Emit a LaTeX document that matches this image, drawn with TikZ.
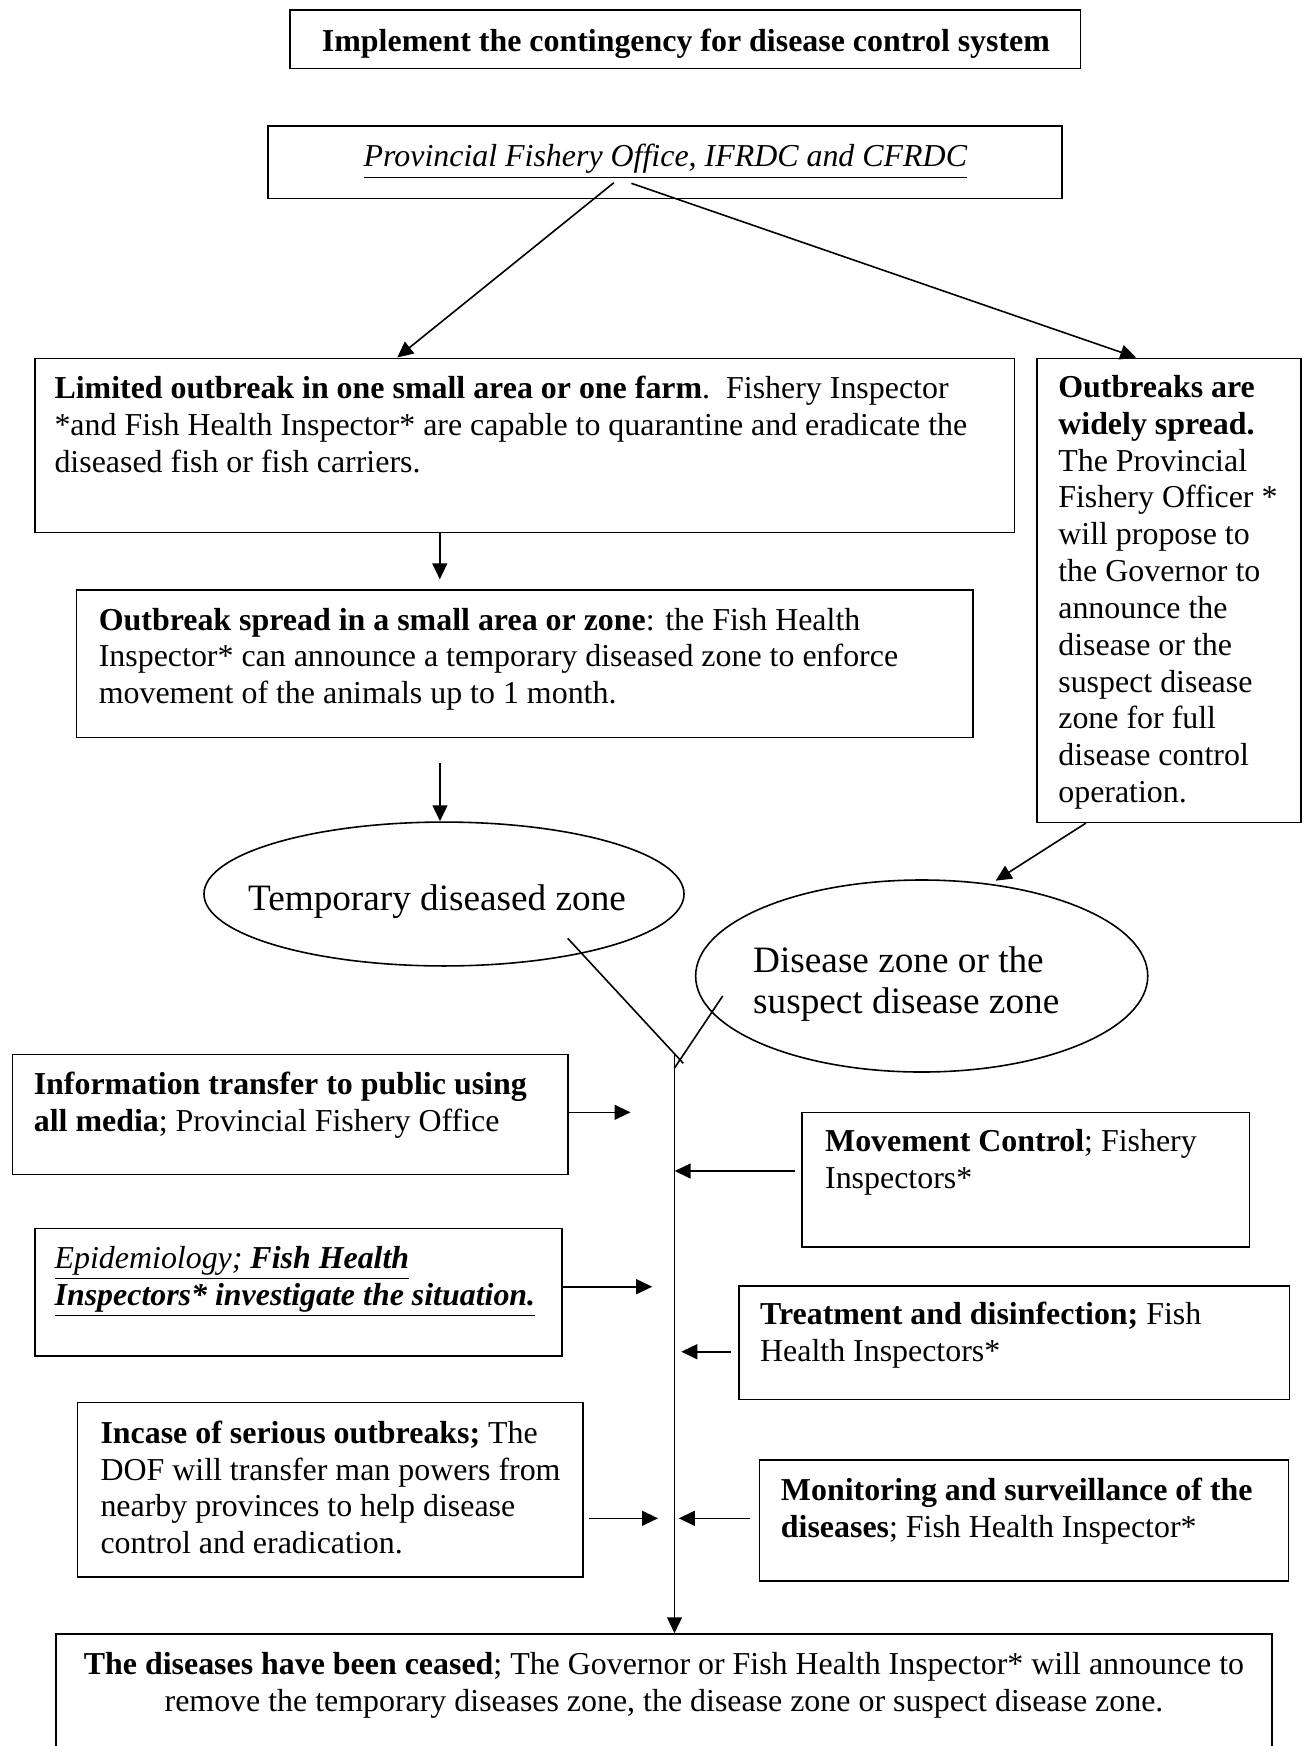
\documentclass[tikz,border=0pt]{standalone}
\usepackage{fontspec}
\setmainfont{Liberation Serif}
\usetikzlibrary{arrows.meta,fit,shapes.geometric,calc}

\begin{document}
\begin{tikzpicture}[x=0.376pt,y=0.376pt]
        \tikzstyle{every node}+=[inner sep=0pt]
        \tikzstyle{box}=[draw=black, line width=0.6pt, rectangle]
        \tikzstyle{zone}=[draw=black, line width=0.6pt, ellipse]
        \tikzstyle{txt}=[align=left, font=\fontsize{12}{13.85}\selectfont]
        \tikzstyle{bigtxt}=[align=left, font=\fontsize{14}{15.6}\selectfont]
        \tikzstyle{arr}=[line width=0.6pt, -{Triangle[length=6pt,width=5.6pt]}]
        \tikzstyle{link}=[line width=0.6pt]
        \useasboundingbox (0,0) rectangle (1306,-1746);
        % boxes and zones
        \node [box, fit={(289.9,-10) (1080.3,-68.3)}] (top) {};
        \node [box, fit={(268.2,-126) (1062,-198.3)}] (prov) {};
        \node [box, fit={(35,-358.3) (1014.5,-532.3)}] (lim) {};
        \node [box, fit={(1037,-358.3) (1301,-822.3)}] (wide) {};
        \node [box, fit={(76.6,-590) (972.8,-737.3)}] (spread) {};
        \node [zone, minimum width=180.5pt, minimum height=54.1pt] (tdz) at (444,-894) {};
        \node [zone, minimum width=170pt, minimum height=72.2pt] (dz) at (921.7,-976) {};
        \node [box, fit={(12.5,-1054.3) (568,-1174.3)}] (info) {};
        \node [box, fit={(802,-1112.3) (1249.4,-1246.7)}] (move) {};
        \node [box, fit={(35,-1228.3) (562.2,-1355.7)}] (epi) {};
        \node [box, fit={(738.8,-1286) (1289.3,-1399.3)}] (treat) {};
        \node [box, fit={(77.5,-1402.3) (583,-1576.7)}] (incase) {};
        \node [box, fit={(759.6,-1460) (1288.5,-1580.7)}] (monit) {};
        \node [box, fit={(55.8,-1634) (1271.9,-1770)}] (ceased) {};
        % texts (base = last line)
        \node [txt, anchor=base] (toptxt) at (686,-51.7) {\textbf{Implement the contingency for disease control system}};
        \node [txt, anchor=base] (provtxt) at (665.5,-166.7) {\underline{\textit{Provincial Fishery Office, IFRDC and CFRDC}}};
        \node [txt, anchor=base west] (limtxt) at (54,-472) {\textbf{Limited outbreak in one small area or one farm}.\ \ Fishery Inspector\\
                *and Fish Health Inspector* are capable to quarantine and eradicate the\\
                diseased fish or fish carriers.};
        \node [txt, anchor=base west] (spreadtxt) at (98.3,-703.7) {\textbf{Outbreak spread in a small area or zone}: the Fish Health\\
                Inspector* can announce a temporary diseased zone to enforce\\
                movement of the animals up to 1 month.};
        \node [txt, anchor=base west] (widetxt) at (1057.8,-802.5) {\textbf{Outbreaks are}\\ \textbf{widely spread.}\\ The Provincial\\
                Fishery Officer *\\ will propose to\\ the Governor to\\ announce the\\ disease or the\\
                suspect disease\\ zone for full\\ disease control\\ operation.};
        \node [bigtxt, anchor=base] (tdztxt) at (437,-910) {Temporary diseased zone};
        \node [bigtxt, anchor=base west] (dztxt) at (752.7,-1013.5) {Disease zone or the\\ suspect disease zone};
        \node [txt, anchor=base west] (infotxt) at (33.3,-1131.8) {\textbf{Information transfer to public using}\\
                \textbf{all media}; Provincial Fishery Office};
        \node [txt, anchor=base west] (movetxt) at (824.6,-1188.5) {\textbf{Movement Control}; Fishery\\ Inspectors*};
        \node [txt, anchor=base west] (epitxt) at (54.1,-1305.1) {\underline{\textit{Epidemiology;} \textbf{\textit{Fish Health}}}\\
                \underline{\textbf{\textit{Inspectors* investigate the situation.}}}};
        \node [txt, anchor=base west] (treattxt) at (759.6,-1361.8) {\textbf{Treatment and disinfection;} Fish\\ Health Inspectors*};
        \node [txt, anchor=base west] (incasetxt) at (100,-1553.8) {\textbf{Incase of serious outbreaks;} The\\
                DOF will transfer man powers from\\ nearby provinces to help disease\\ control and eradication.};
        \node [txt, anchor=base west] (monittxt) at (780.4,-1537.5) {\textbf{Monitoring and surveillance of the}\\
                \textbf{diseases}; Fish Health Inspector*};
        \node [txt, align=center, anchor=base] (ceasedtxt) at (664,-1711.8) {\textbf{The diseases have been ceased}; The Governor or Fish Health Inspector* will announce to\\
                remove the temporary diseases zone, the disease zone or suspect disease zone.};
        % free ends
        \coordinate (pa) at (613.9,-182.7);
        \coordinate (pb) at (631.4,-183.3);
        \coordinate (c1) at (439.8,-579.3);
        \coordinate (c2) at (440,-763.3);
        \coordinate (c3) at (995.7,-880.7);
        \coordinate (t1) at (567.7,-938.3);
        \coordinate (t2) at (683.3,-1063.3);
        \coordinate (d1) at (722.7,-996);
        \coordinate (d2) at (674.3,-1068.3);
        \coordinate (sp) at (674.5,-1053.3);
        \coordinate (h1) at (630.5,-1112.3);
        \coordinate (h2a) at (795.4,-1171);
        \coordinate (h2b) at (674.7,-1171);
        \coordinate (h3) at (652.2,-1286.7);
        \coordinate (h4a) at (730.5,-1351.7);
        \coordinate (h4b) at (681.3,-1351.7);
        \coordinate (h5a) at (588.9,-1518.3);
        \coordinate (h5b) at (658,-1518.3);
        \coordinate (h6a) at (749.6,-1518.3);
        \coordinate (h6b) at (678.8,-1518.3);
        % connectors
        \draw [arr] (pa) -- ($(lim.north west)+(363,0)$);
        \draw [arr] (pb) -- ($(wide.north west)+(100,0)$);
        \draw [arr] (c1 |- lim.south) -- (c1);
        \draw [arr] (c2) -- (c2 |- tdz.north);
        \draw [arr] ($(wide.south west)+(49.7,0)$) -- (c3);
        \draw [link] (t1) -- (t2);
        \draw [link] (d1) -- (d2);
        \draw [arr] (sp) -- (sp |- ceased.north);
        \draw [arr] (h1 -| info.east) -- (h1);
        \draw [arr] (h2a) -- (h2b);
        \draw [arr] (h3 -| epi.east) -- (h3);
        \draw [arr] (h4a) -- (h4b);
        \draw [arr] (h5a) -- (h5b);
        \draw [arr] (h6a) -- (h6b);
        \end{tikzpicture}
\end{document}
